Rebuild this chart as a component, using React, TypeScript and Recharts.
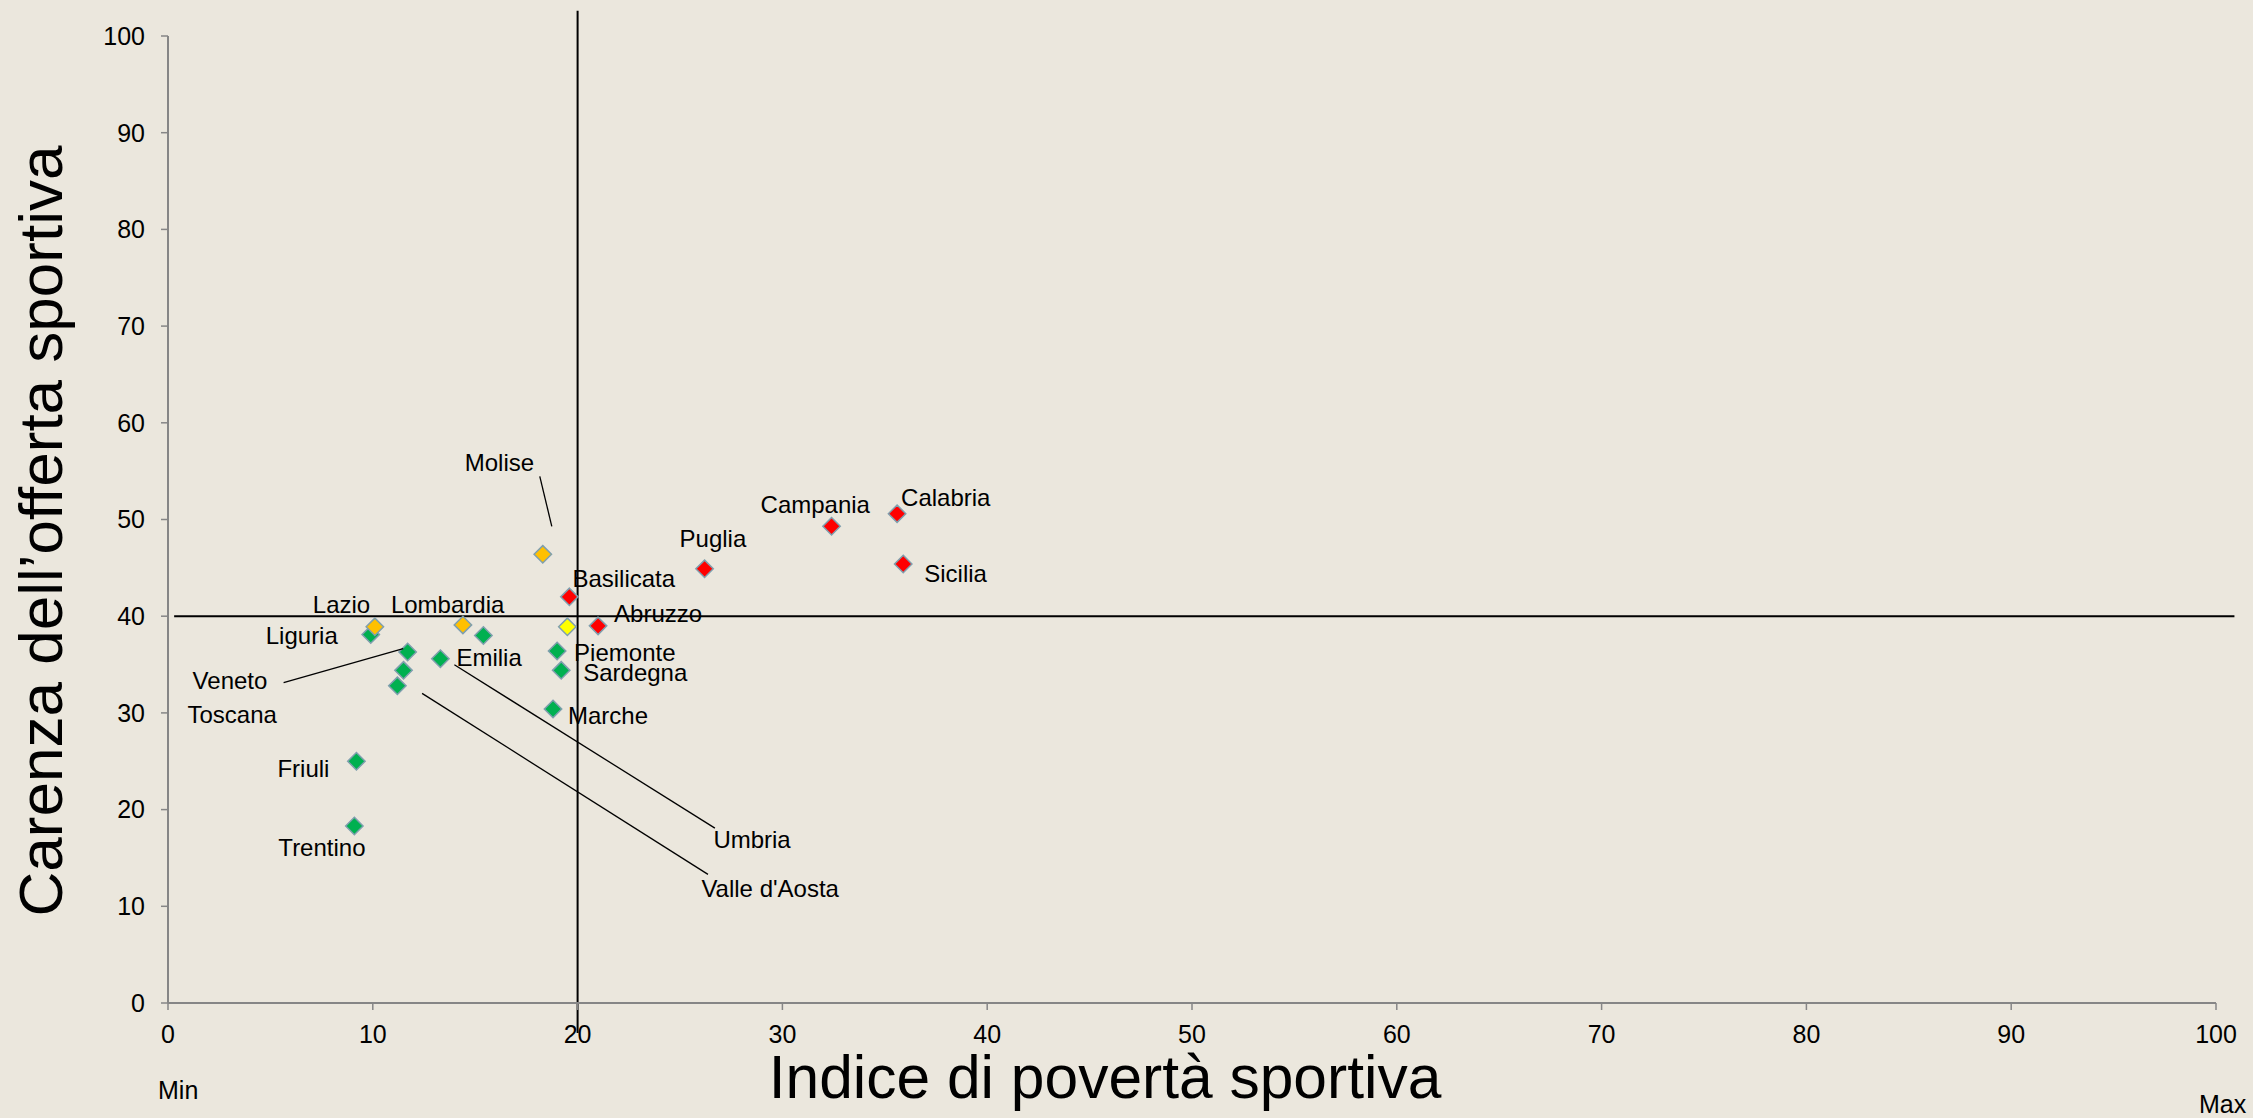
import React from 'react';
import { ScatterChart, Scatter, XAxis, YAxis, ReferenceLine, Label } from 'recharts';

// Regioni: indice di povertà sportiva (x) e carenza dell'offerta sportiva (y)
const regions = [
  'Liguria', 'Veneto', 'Toscana', 'Emilia', 'Umbria', "Valle d'Aosta", 'Friuli', 'Trentino',
  'Piemonte', 'Sardegna', 'Marche', 'Lazio', 'Lombardia', 'Molise', '', 'Basilicata',
  'Abruzzo', 'Puglia', 'Campania', 'Calabria', 'Sicilia',
];
const poverty = [9.9, 11.7, 11.5, 15.4, 13.3, 11.2, 9.2, 9.1, 19.0, 19.2, 18.8, 10.1, 14.4, 18.3, 19.5, 19.6, 21.0, 26.2, 32.4, 35.6, 35.9];
const shortage = [38.1, 36.3, 34.4, 38.0, 35.6, 32.8, 25.0, 18.3, 36.4, 34.4, 30.4, 38.9, 39.1, 46.4, 38.9, 42.0, 39.0, 44.9, 49.3, 50.6, 45.4];
const levels = [
  'green', 'green', 'green', 'green', 'green', 'green', 'green', 'green', 'green', 'green', 'green',
  'orange', 'orange', 'orange', 'yellow', 'red', 'red', 'red', 'red', 'red', 'red',
];
const axisTicks = [0, 10, 20, 30, 40, 50, 60, 70, 80, 90, 100];

const levelColors: Record<string, string> = {
  green: '#00b050',
  orange: '#ffc000',
  yellow: '#ffff00',
  red: '#ff0000',
};
const levelOrder = ['green', 'orange', 'yellow', 'red'];

// label placement relative to the marker (px), with optional leader line
const labelPos: Record<string, { dx: number; dy: number; line?: number[] }> = {
  Molise: { dx: -78, dy: -83, line: [-3, -78, 9, -28] },
  Basilicata: { dx: 3, dy: -10 },
  Abruzzo: { dx: 16, dy: -4 },
  Piemonte: { dx: 17, dy: 10 },
  Sardegna: { dx: 22, dy: 11 },
  Marche: { dx: 15, dy: 15 },
  Puglia: { dx: -25, dy: -22 },
  Campania: { dx: -71, dy: -13 },
  Calabria: { dx: 4, dy: -8 },
  Sicilia: { dx: 21, dy: 18 },
  Lazio: { dx: -62, dy: -14 },
  Lombardia: { dx: -72, dy: -12 },
  Liguria: { dx: -105, dy: 9 },
  Veneto: { dx: -215, dy: 37, line: [-124, 30.6, -4.4, -3.4] },
  Toscana: { dx: -216, dy: 53 },
  Emilia: { dx: -27, dy: 30 },
  Umbria: { dx: 273, dy: 189, line: [14, 6, 274.5, 169.4] },
  "Valle d'Aosta": { dx: 304, dy: 211, line: [24.7, 7.6, 310.6, 188.6] },
  Friuli: { dx: -79, dy: 16 },
  Trentino: { dx: -76, dy: 30 },
};

const font = "'Liberation Sans', Arial, sans-serif";

const points = regions.map((name, i) => ({
  name,
  x: poverty[i],
  y: shortage[i],
  level: levels[i],
}));

function Diamond(props: any) {
  const { cx, cy, payload, color } = props;
  const r = 8.7;
  const pos = labelPos[payload.name];
  return (
    <g>
      <polygon
        points={`${cx},${cy - r} ${cx + r},${cy} ${cx},${cy + r} ${cx - r},${cy}`}
        fill={color}
        stroke="#7f9fae"
        strokeWidth={1.5}
      />
      {pos && pos.line && (
        <line
          x1={cx + pos.line[0]}
          y1={cy + pos.line[1]}
          x2={cx + pos.line[2]}
          y2={cy + pos.line[3]}
          stroke="#000"
          strokeWidth={1.3}
        />
      )}
      {pos && (
        <text x={cx + pos.dx} y={cy + pos.dy} fontFamily={font} fontSize={24} fill="#000">
          {payload.name}
        </text>
      )}
    </g>
  );
}

export default function App() {
  return (
    <div style={{ position: 'absolute', left: 0, top: 0, width: 2253, height: 1118, background: '#ebe7dd' }}>
      <ScatterChart width={2253} height={1118} margin={{ top: 36, right: 37, bottom: 0, left: 0 }}>
        <XAxis
          type="number"
          dataKey="x"
          domain={[0, 100]}
          ticks={axisTicks}
          height={115}
          tickSize={7}
          tickMargin={15}
          axisLine={{ stroke: '#868686', strokeWidth: 2 }}
          tickLine={{ stroke: '#868686', strokeWidth: 1.5 }}
          tick={{ fill: '#000', fontSize: 25, fontFamily: font }}
        >
          <Label
            content={() => (
              <g>
                <text x={1105} y={1098} textAnchor="middle" fontFamily={font} fontSize={60.5} fill="#000">
                  Indice di povertà sportiva
                </text>
                <text x={158} y={1099} fontFamily={font} fontSize={25} fill="#000">Min</text>
                <text x={2199} y={1113} fontFamily={font} fontSize={25} fill="#000">Max</text>
              </g>
            )}
          />
        </XAxis>
        <YAxis
          type="number"
          dataKey="y"
          domain={[0, 100]}
          ticks={axisTicks}
          width={168}
          tickSize={7}
          tickMargin={16}
          axisLine={{ stroke: '#868686', strokeWidth: 2 }}
          tickLine={{ stroke: '#868686', strokeWidth: 1.5 }}
          tick={{ fill: '#000', fontSize: 25, fontFamily: font }}
        >
          <Label
            content={() => (
              <text
                x={62}
                y={531}
                transform="rotate(-90, 62, 531)"
                textAnchor="middle"
                fontFamily={font}
                fontSize={62}
                fill="#000"
              >
                Carenza dell’offerta sportiva
              </text>
            )}
          />
        </YAxis>
        <ReferenceLine
          segment={[{ x: 20, y: -3.1 }, { x: 20, y: 102.6 }]}
          stroke="#000"
          strokeWidth={2}
          ifOverflow="visible"
        />
        <ReferenceLine
          segment={[{ x: 0.3, y: 40 }, { x: 100.9, y: 40 }]}
          stroke="#000"
          strokeWidth={2}
          ifOverflow="visible"
        />
        {levelOrder.map((lv) => (
          <Scatter
            key={lv}
            data={points.filter((p) => p.level === lv)}
            isAnimationActive={false}
            shape={(p: any) => <Diamond {...p} color={levelColors[lv]} />}
          />
        ))}
      </ScatterChart>
    </div>
  );
}
